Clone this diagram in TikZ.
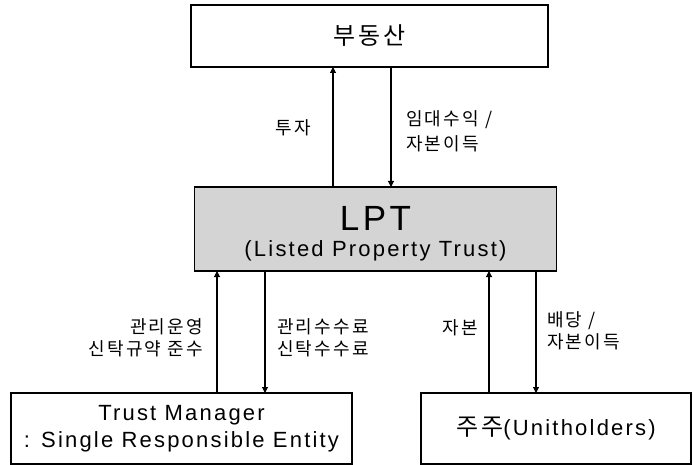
\documentclass[tikz,border=0pt]{standalone}
\usepackage{fontspec}
\setmainfont{Liberation Sans}[LetterSpace=10]
\newfontfamily\kr{Noto Sans CJK KR}[LetterSpace=12]
\usetikzlibrary{arrows.meta}
\definecolor{lptgray}{RGB}{212,212,212}
\begin{document}
\begin{tikzpicture}[x=1pt,y=-1pt,
  box/.style={draw, line width=1.1pt, inner sep=0pt, outer sep=0pt},
  conn/.style={line width=1.1pt, -{Triangle[length=6pt,width=6pt]}},
  lbl/.style={font=\kr\fontsize{18}{24}\selectfont, inner sep=0pt},
  txt/.style={inner sep=0pt, anchor=base}]
\useasboundingbox (0,0) rectangle (693,465);
% boxes
\node[box, minimum width=357pt, minimum height=62pt, font=\kr\fontsize{24}{28}\selectfont] (re) at (369.5,36) {부동산};
\node[box, line width=1.6pt, fill=lptgray, minimum width=362pt, minimum height=84pt] (lpt) at (375.5,229) {};
\node[txt, font=\fontsize{35}{40}\selectfont] (lpttitle) at (375.5,230) {LPT};
\node[txt, font=\fontsize{22}{26}\selectfont] (lptsub) at (375.5,256) {(Listed Property Trust)};
\node[box, minimum width=341pt, minimum height=71pt, align=center, font=\fontsize{22}{27}\selectfont] (tm) at (181.5,428.5) {Trust Manager\\: Single Responsible Entity};
\node[box, minimum width=270pt, minimum height=71pt, font=\fontsize{22}{27}\selectfont] (uh) at (556,428.5) {{\kr\fontsize{24}{27}\selectfont 주주}(Unitholders)};
% connector x positions
\coordinate (x1) at (333,0);
\coordinate (x2) at (391,0);
\coordinate (x3) at (217,0);
\coordinate (x4) at (265,0);
\coordinate (x5) at (489,0);
\coordinate (x6) at (536,0);
\draw[conn] (lpt.north -| x1) -- (re.south -| x1);
\draw[conn] (re.south -| x2) -- (lpt.north -| x2);
\draw[conn] (tm.north -| x3) -- (lpt.south -| x3);
\draw[conn] (lpt.south -| x4) -- (tm.north -| x4);
\draw[conn] (uh.north -| x5) -- (lpt.south -| x5);
\draw[conn] (lpt.south -| x6) -- (uh.north -| x6);
% labels
\node[lbl, anchor=east] (l1) at (311,128) {투자};
\node[lbl, anchor=west, align=left, font=\kr\fontsize{18}{25}\selectfont] (l2) at (406,131) {임대수익 /\\자본이득};
\node[lbl, anchor=east, align=right, font=\kr\fontsize{18}{22}\selectfont] (l3) at (203,338) {관리운영\\신탁규약 준수};
\node[lbl, anchor=west, align=left, font=\kr\fontsize{18}{22}\selectfont] (l4) at (277,338) {관리수수료\\신탁수수료};
\node[lbl, anchor=east] (l5) at (478,328) {자본};
\node[lbl, anchor=west, align=left, font=\kr\fontsize{18}{22}\selectfont] (l6) at (547,331) {배당 /\\자본이득};
\end{tikzpicture}
\end{document}
